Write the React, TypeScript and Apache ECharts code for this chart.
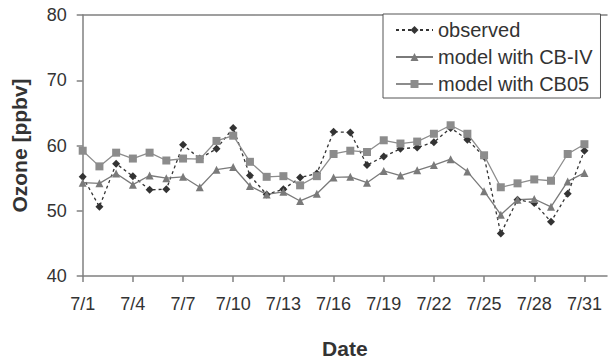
import React, { useEffect, useRef } from "react";
import * as echarts from "echarts";

const days = [1, 2, 3, 4, 5, 6, 7, 8, 9, 10, 11, 12, 13, 14, 15, 16, 17, 18, 19, 20, 21, 22, 23, 24, 25, 26, 27, 28, 29, 30, 31];
const tickDays = [1, 4, 7, 10, 13, 16, 19, 22, 25, 28, 31];
const observed = [55.2, 50.6, 57.2, 55.3, 53.2, 53.3, 60.1, 58.0, 59.5, 62.7, 55.4, 52.5, 53.3, 55.1, 55.7, 62.1, 62.0, 57.0, 58.3, 59.5, 59.7, 60.5, 62.7, 60.9, 58.3, 46.5, 51.7, 51.2, 48.3, 52.6, 59.2];
const modelCBIV = [54.3, 54.2, 55.7, 54.0, 55.4, 55.0, 55.2, 53.6, 56.3, 56.7, 53.8, 52.5, 52.9, 51.5, 52.6, 55.1, 55.2, 54.3, 56.1, 55.4, 56.2, 57.0, 57.9, 56.0, 53.0, 49.4, 51.7, 51.8, 50.6, 54.5, 55.8];
const modelCB05 = [59.2, 56.8, 58.9, 58.0, 58.9, 57.7, 58.0, 57.9, 60.7, 61.5, 57.5, 55.2, 55.3, 53.9, 55.3, 58.7, 59.2, 59.0, 60.8, 60.3, 60.6, 61.8, 63.1, 61.8, 58.5, 53.6, 54.2, 54.8, 54.6, 58.7, 60.2];
const seriesNames = ["observed", "model with CB-IV", "model with CB05"];

export default function App() {
  const ref = useRef<HTMLDivElement>(null);
  useEffect(() => {
    const chart = echarts.init(ref.current!, null, { renderer: "svg" });
    const font = "'Liberation Sans', Arial, sans-serif";
    const axisColor = "#808080";
    const textColor = "#333333";
    const pair = (vals: number[]) => days.map((d, i) => [d, vals[i]]);
    chart.setOption({
      animation: false,
      backgroundColor: "#ffffff",
      textStyle: { fontFamily: font },
      grid: { left: 82.7, right: 5, top: 15, bottom: 83, containLabel: false, outerBoundsMode: "none" },
      xAxis: [
        {
          type: "value",
          min: 1,
          max: 32.35,
          axisLine: { show: true, lineStyle: { color: axisColor, width: 1.5 } },
          axisTick: { show: true, customValues: tickDays, length: 6, lineStyle: { color: axisColor, width: 1.5 } },
          axisLabel: { customValues: tickDays, formatter: (v: number) => `7/${v}`, fontSize: 18, color: textColor, margin: 19 },
          splitLine: { show: false },
          name: "Date",
          nameLocation: "middle",
          nameGap: 62,
          nameTextStyle: { fontSize: 21, fontWeight: "bold", color: textColor },
        },
        {
          type: "value",
          position: "top",
          min: 1,
          max: 32.35,
          axisLine: { show: true, lineStyle: { color: axisColor, width: 1.5 } },
          axisTick: { show: false },
          axisLabel: { show: false },
          splitLine: { show: false },
        },
      ],
      yAxis: {
        type: "value",
        min: 40,
        max: 80,
        interval: 10,
        axisLine: { show: true, lineStyle: { color: axisColor, width: 1.5 } },
        axisTick: { show: true, length: 6, lineStyle: { color: axisColor, width: 1.5 } },
        axisLabel: { fontSize: 18, color: textColor, margin: 16 },
        splitLine: { show: false },
        name: "Ozone [ppbv]",
        nameLocation: "middle",
        nameGap: 53,
        nameRotate: 90,
        nameTextStyle: { fontSize: 21, fontWeight: "bold", color: textColor },
      },
      legend: {
        orient: "vertical",
        left: 383,
        top: 14,
        backgroundColor: "#ffffff",
        borderColor: "#555555",
        borderWidth: 1,
        borderRadius: 0,
        padding: [6, 8, 4, 12],
        itemGap: 7,
        itemWidth: 37,
        itemHeight: 10,
        textStyle: { fontSize: 20, color: textColor },
        data: seriesNames,
      },
      series: [
        {
          name: seriesNames[0],
          type: "line",
          data: pair(observed),
          symbol: "diamond",
          symbolSize: 8,
          itemStyle: { color: "#333333" },
          lineStyle: { color: "#333333", width: 1.3, type: [3, 3] },
        },
        {
          name: seriesNames[1],
          type: "line",
          data: pair(modelCBIV),
          symbol: "triangle",
          symbolSize: 8,
          itemStyle: { color: "#7a7a7a" },
          lineStyle: { color: "#7a7a7a", width: 1.3 },
        },
        {
          name: seriesNames[2],
          type: "line",
          data: pair(modelCB05),
          symbol: "rect",
          symbolSize: 8,
          itemStyle: { color: "#8c8c8c" },
          lineStyle: { color: "#8c8c8c", width: 1.3 },
        },
      ],
    });
    return () => chart.dispose();
  }, []);
  return <div ref={ref} style={{ position: "fixed", left: 0, top: 0, width: 612, height: 359 }} />;
}
